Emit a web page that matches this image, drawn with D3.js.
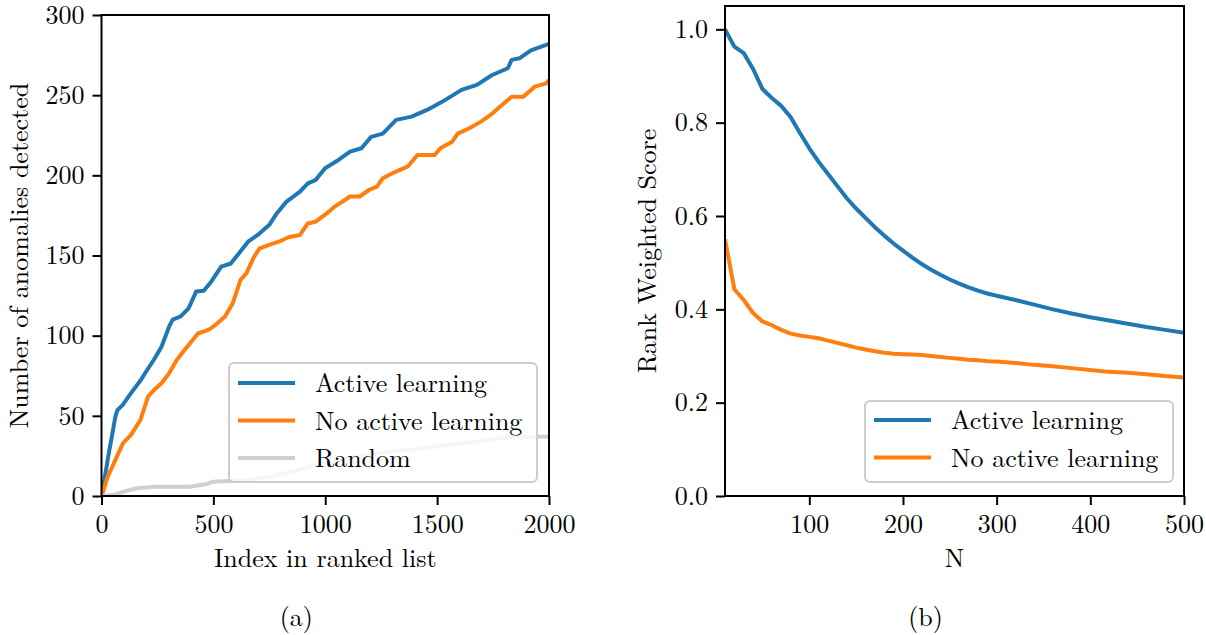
<!DOCTYPE html>
<html>
<head>
<meta charset="utf-8">
<script src="https://cdn.jsdelivr.net/npm/d3@7/dist/d3.min.js"></script>
<style>
  html, body { margin: 0; padding: 0; background: #fff; }
</style>
</head>
<body>
<svg id="chart" width="1206" height="635"></svg>
<script>
// ---------- Panel (a) data ----------
const activeIndex = [0,15,33,50,62,71,96,131,174,199,234,268,302,318,354,389,423,457,492,535,578,612,655,698,749,784,827,887,922,956,999,1059,1111,1162,1205,1257,1317,1386,1455,1524,1609,1678,1746,1816,1833,1868,1919,2000];
const activeCount = [0,12,27,40,49.5,53.6,57,64,72,77.5,85,93,105.6,110,112,117,127.5,128,134,143,145,151,158.6,162.8,169,176.4,183.6,189.8,195,197,204.4,209.6,214.8,216.9,224,226,234.6,236.6,240.8,246,253.3,256.4,262.6,266.8,272,273,278,282];

const noActiveIndex = [0,28,62,96,131,174,208,234,268,302,337,371,406,432,457,483,509,552,586,621,648,681,707,749,792,836,887,922,956,1008,1042,1077,1111,1154,1197,1231,1257,1300,1334,1369,1412,1489,1515,1567,1592,1644,1696,1739,1782,1833,1885,1936,1988,2000];
const noActiveCount = [0,12,22.5,33,38,47.4,62,66,70.3,76.5,85,91,97,101.5,102.5,104,106.7,112,120,134.7,139,149,154.5,156.6,158.6,161.4,162.8,170,171,176.4,180.5,183.6,186.8,186.8,191,193,198.2,201.3,203.4,205.5,212.7,212.7,216.9,221,226,229.4,233.5,237.7,242.9,249,249,255.3,257.4,259.5];

const randomIndex = [0,53,98,157,247,396,470,500,574,650,749,853,956,1050,1150,1250,1350,1437,1530,1609,1746,1833,2000];
const randomCount = [0,0.6,2.7,4.8,5.8,5.8,7.5,8.9,9.4,10,12,15.2,19.3,22,25,27,28.5,29.7,31.5,32.9,35,37,37];

const xTicksA = [0,500,1000,1500,2000];
const yTicksA = [0,50,100,150,200,250,300];

// ---------- Panel (b) data ----------
const nValues = [10,20,30,40,50,60,70,80,90,100,110,120,130,140,150,160,170,180,190,200,210,220,230,240,250,260,270,280,290,300,320,340,360,380,400,420,440,460,480,500];
const rwsActive = [1.0,0.963,0.949,0.915,0.872,0.853,0.836,0.812,0.778,0.745,0.716,0.690,0.664,0.638,0.616,0.596,0.576,0.558,0.541,0.526,0.511,0.497,0.485,0.474,0.464,0.455,0.447,0.440,0.434,0.429,0.420,0.410,0.400,0.391,0.383,0.376,0.369,0.362,0.356,0.350];
const rwsNoActive = [0.55,0.443,0.420,0.392,0.374,0.366,0.356,0.348,0.344,0.341,0.338,0.333,0.328,0.323,0.318,0.314,0.310,0.307,0.305,0.304,0.303,0.302,0.300,0.298,0.296,0.294,0.292,0.291,0.289,0.288,0.285,0.281,0.278,0.274,0.270,0.266,0.264,0.261,0.257,0.254];

const xTicksB = [100,200,300,400,500];
const yTicksB = [0.0,0.2,0.4,0.6,0.8,1.0];

const BLUE = "#1f77b4", ORANGE = "#ff7f0e", GRAY = "#d0d0d0";
const FS = 26;
const FONT = "'Latin Modern Roman', 'Liberation Serif', 'Tinos', serif";

const svg = d3.select("#chart");

function zip(xs, ys) { return xs.map((x, i) => [x, ys[i]]); }

function label(sel) {
  return sel.style("font-family", FONT).style("font-size", FS + "px").attr("fill", "#000");
}

function drawPanel(opt) {
  const g = svg.append("g");
  const x = d3.scaleLinear().domain(opt.xDomain).range(opt.xRange);
  const y = d3.scaleLinear().domain(opt.yDomain).range(opt.yRange);
  const clipId = "clip" + opt.id;
  svg.append("clipPath").attr("id", clipId).append("rect")
    .attr("x", opt.xRange[0]).attr("y", opt.yRange[1])
    .attr("width", opt.xRange[1] - opt.xRange[0])
    .attr("height", opt.yRange[0] - opt.yRange[1]);

  const line = d3.line().x(d => x(d[0])).y(d => y(d[1]));
  const lines = g.append("g").attr("clip-path", `url(#${clipId})`);
  opt.series.forEach(s => {
    lines.append("path").datum(s.data)
      .attr("fill", "none").attr("stroke", s.color).attr("stroke-width", 4)
      .attr("stroke-linejoin", "round").attr("stroke-linecap", "butt")
      .attr("d", line);
  });

  const xAxis = d3.axisBottom(x).tickValues(opt.xTicks).tickSize(9).tickPadding(8)
    .tickFormat(opt.xFmt);
  const yAxis = d3.axisLeft(y).tickValues(opt.yTicks).tickSize(9).tickPadding(8)
    .tickFormat(opt.yFmt);
  const gx = g.append("g").attr("transform", `translate(0,${opt.yRange[0]})`).call(xAxis);
  const gy = g.append("g").attr("transform", `translate(${opt.xRange[0]},0)`).call(yAxis);
  [gx, gy].forEach(a => {
    a.attr("font-family", null).attr("font-size", null);
    a.select(".domain").remove();
    a.selectAll(".tick line").attr("stroke", "#000").attr("stroke-width", 2);
    label(a.selectAll(".tick text"));
  });
  gx.selectAll(".tick text").attr("dy", "0.78em");

  g.append("rect")
    .attr("x", opt.xRange[0]).attr("y", opt.yRange[1])
    .attr("width", opt.xRange[1] - opt.xRange[0])
    .attr("height", opt.yRange[0] - opt.yRange[1])
    .attr("fill", "none").attr("stroke", "#000").attr("stroke-width", 2);

  const cx = (opt.xRange[0] + opt.xRange[1]) / 2;
  label(g.append("text")).attr("x", cx).attr("y", 567).attr("text-anchor", "middle")
    .text(opt.xLabel);
  const cy = (opt.yRange[0] + opt.yRange[1]) / 2;
  label(g.append("text")).attr("transform", `translate(${opt.yLabelX},${cy}) rotate(-90)`)
    .attr("text-anchor", "middle")
    .text(opt.yLabel);

  const L = opt.legend;
  g.append("rect").attr("x", L.x).attr("y", L.y).attr("width", L.w).attr("height", L.h)
    .attr("rx", 5).attr("ry", 5)
    .attr("fill", "#fff").attr("fill-opacity", 0.8)
    .attr("stroke", "#cccccc").attr("stroke-width", 2);
  opt.series.forEach((s, i) => {
    const ly = L.firstY + i * 37.5;
    g.append("line").attr("x1", L.x + 9).attr("x2", L.x + 66).attr("y1", ly).attr("y2", ly)
      .attr("stroke", s.color).attr("stroke-width", 4);
    label(g.append("text")).attr("x", L.x + 86).attr("y", ly + 9)
      .text(s.name);
  });

  label(g.append("text")).attr("x", cx - 29).attr("y", 626).attr("text-anchor", "middle")
    .text(opt.caption);
}

drawPanel({
  id: "a",
  xDomain: [0, 2000], xRange: [101.5, 549],
  yDomain: [0, 300], yRange: [496, 15],
  xTicks: xTicksA, yTicks: yTicksA,
  xFmt: d3.format("d"), yFmt: d3.format("d"),
  xLabel: "Index in ranked list",
  yLabel: "Number of anomalies detected", yLabelX: 28,
  caption: "(a)",
  series: [
    { name: "Active learning", color: BLUE, data: zip(activeIndex, activeCount) },
    { name: "No active learning", color: ORANGE, data: zip(noActiveIndex, noActiveCount) },
    { name: "Random", color: GRAY, data: zip(randomIndex, randomCount) }
  ],
  legend: { x: 229, y: 363, w: 308, h: 119, firstY: 383 }
});

drawPanel({
  id: "b",
  xDomain: [10, 500], xRange: [725, 1184],
  yDomain: [0, 1.05], yRange: [496, 6],
  xTicks: xTicksB, yTicks: yTicksB,
  xFmt: d3.format("d"), yFmt: d3.format(".1f"),
  xLabel: "N",
  yLabel: "Rank Weighted Score", yLabelX: 656,
  caption: "(b)",
  series: [
    { name: "Active learning", color: BLUE, data: zip(nValues, rwsActive) },
    { name: "No active learning", color: ORANGE, data: zip(nValues, rwsNoActive) }
  ],
  legend: { x: 865, y: 401, w: 308, h: 81, firstY: 420 }
});
</script>
</body>
</html>
